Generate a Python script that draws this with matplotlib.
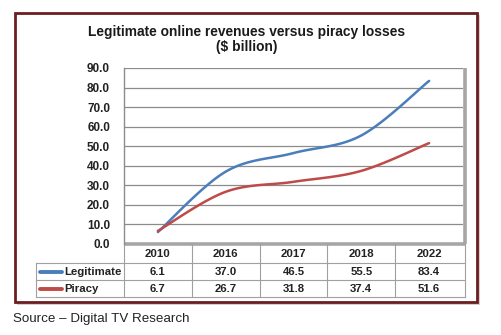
import numpy as np
import matplotlib
matplotlib.use("Agg")
import matplotlib.pyplot as plt
from matplotlib.patches import Rectangle

plt.rcParams['font.family'] = ['Liberation Sans', 'DejaVu Sans']

years = ["2010", "2016", "2017", "2018", "2022"]
legitimate = [6.1, 37.0, 46.5, 55.5, 83.4]
piracy = [6.7, 26.7, 31.8, 37.4, 51.6]
series_names = ["Legitimate", "Piracy"]
series_colors = ["#4a7ebb", "#be4b48"]

W, H = 501, 335


def smooth(xs, ys, n=30):
    # catmull-rom curve through the points, like a spreadsheet's smoothed line
    p = np.column_stack([xs, ys]).astype(float)
    p = np.vstack([p[0], p, p[-1]])
    out = []
    t = np.linspace(0, 1, n)[:, None]
    for i in range(1, len(p) - 2):
        p0, p1, p2, p3 = p[i - 1], p[i], p[i + 1], p[i + 2]
        c1 = p1 + (p2 - p0) / 6
        c2 = p2 - (p3 - p1) / 6
        seg = ((1 - t) ** 3) * p1 + 3 * ((1 - t) ** 2) * t * c1 + 3 * (1 - t) * t ** 2 * c2 + t ** 3 * p2
        out.append(seg if i == 1 else seg[1:])
    out = np.vstack(out)
    return out[:, 0], out[:, 1]


fig = plt.figure(figsize=(W / 100, H / 100), dpi=100)
fig.patch.set_facecolor("white")

# frame with a soft shadow
fig.add_artist(Rectangle((17 / W, 1 - 305 / H), 463 / W, 290 / H, transform=fig.transFigure,
                         facecolor="#d9cccc", edgecolor="none", zorder=0))
fig.add_artist(Rectangle((15 / W, 1 - 302 / H), 462 / W, 289 / H, transform=fig.transFigure,
                         facecolor="white", edgecolor="#6b1e22", lw=2.0, zorder=1))

left, right, top, bottom = 124, 463, 68, 244
ax = fig.add_axes([left / W, 1 - bottom / H, (right - left) / W, (bottom - top) / H])
ax.set_zorder(2)
ax.patch.set_alpha(0)

x = np.arange(len(years))
ax.set_xlim(-0.5, len(years) - 0.5)
ax.set_ylim(0, 90)
ax.set_yticks(np.arange(0, 91, 10))
ax.set_yticklabels([f"{v:.1f}" for v in np.arange(0, 91, 10)], fontsize=8.5, fontweight="bold", color="#222222")
ax.tick_params(axis="y", length=0, pad=10)
ax.set_xticks([])
ax.grid(axis="y", color="#8c8c8c", lw=0.9)
ax.set_axisbelow(True)
for s in ["top", "right", "bottom"]:
    ax.spines[s].set_visible(False)
ax.spines["left"].set_color("#8c8c8c")
ax.spines["left"].set_linewidth(1.0)

# grey floor and back wall
ax.plot([0, 1.009], [0, 0], transform=ax.transAxes, color="#a6a6a6", lw=2.6, clip_on=False, solid_capstyle="butt")
ax.plot([1.005, 1.005], [0, 1.0], transform=ax.transAxes, color="#a6a6a6", lw=2.6, clip_on=False, solid_capstyle="butt")

for vals, c in zip([legitimate, piracy], series_colors):
    sx, sy = smooth(x, vals)
    ax.plot(sx, sy, color=c, lw=1.8, solid_capstyle="round", zorder=3)

# data table under the plot
def fy(py):
    return (bottom - py) / (bottom - top)


def fx(px):
    return (px - left) / (right - left)


grid_c = "#a0a0a0"
row_y = [244, 263, 280, 297]
tab_left, tab_right = 36, 465
kw = dict(transform=ax.transAxes, clip_on=False, color=grid_c, lw=0.8)
for py in row_y[1:]:
    ax.plot([fx(tab_left), fx(tab_right)], [fy(py), fy(py)], **kw)
ax.plot([fx(tab_left), fx(tab_left)], [fy(263), fy(297)], **kw)
for i in range(len(years) + 1):
    xx = i / len(years) if i < len(years) else fx(tab_right)
    ax.plot([xx, xx], [fy(244), fy(297)], **kw)

tkw = dict(transform=ax.transAxes, fontsize=8.2, fontweight="bold", color="#222222", va="center", clip_on=False)
for i, yr in enumerate(years):
    xc = (i + 0.5) / len(years)
    ax.text(xc, fy(254), yr, ha="center", **tkw)
    ax.text(xc, fy(272), f"{legitimate[i]:.1f}", ha="center", **tkw)
    ax.text(xc, fy(289), f"{piracy[i]:.1f}", ha="center", **tkw)

for name, c, yc in zip(series_names, series_colors, [272, 289]):
    ax.plot([fx(40), fx(62)], [fy(yc), fy(yc)], transform=ax.transAxes, color=c, lw=2.8,
            solid_capstyle="round", clip_on=False)
    ax.text(fx(64), fy(yc), name, ha="left", **tkw)

fig.text(247 / W, 1 - 39.5 / H, "Legitimate online revenues versus piracy losses\n($ billion)",
         ha="center", va="center", fontsize=9.9, fontweight="bold", color="#1a1a1a", linespacing=1.05)
fig.text(13 / W, 1 - 319 / H, "Source \u2013 Digital TV Research", ha="left", va="center",
         fontsize=9.6, color="#222222")

fig.savefig("out.png", dpi=100)
